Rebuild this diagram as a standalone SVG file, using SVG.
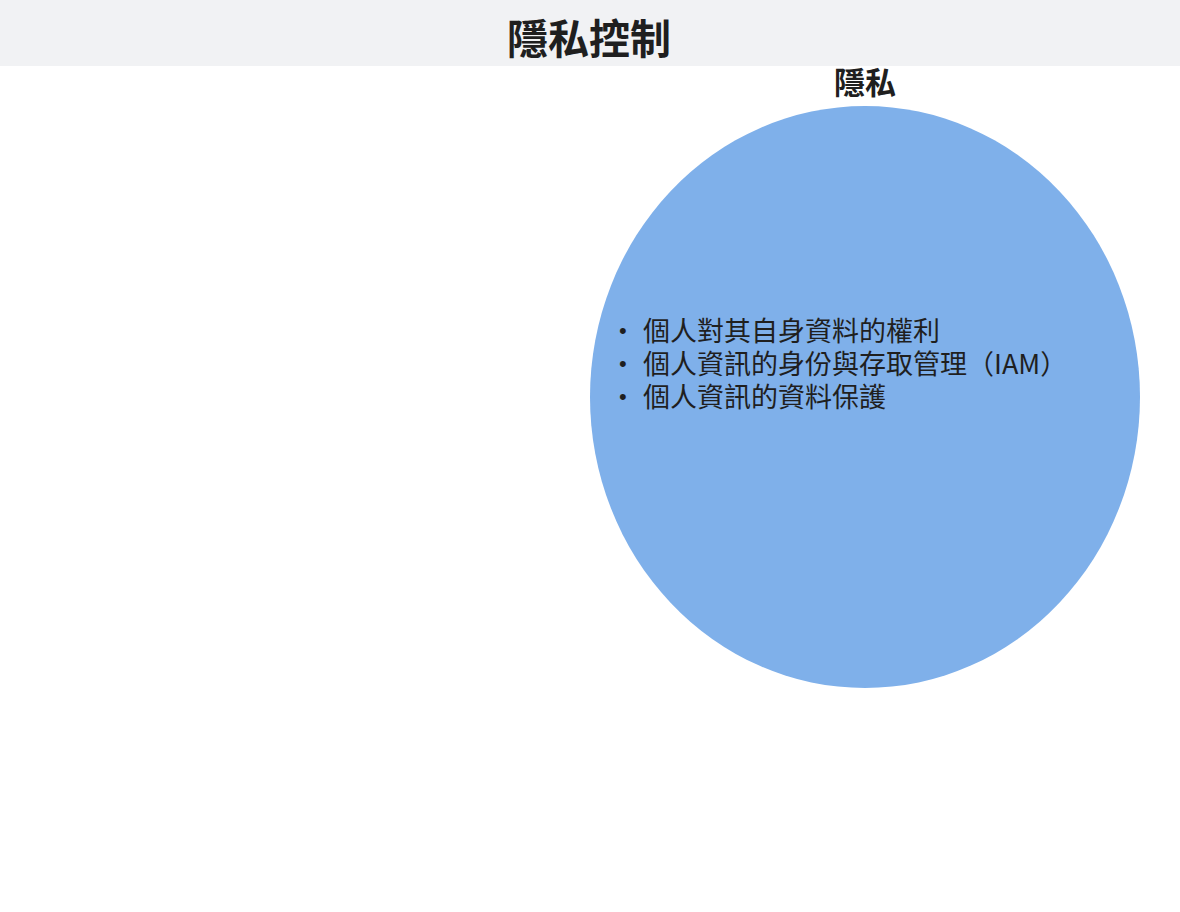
<svg xmlns="http://www.w3.org/2000/svg" width="1180" height="912" viewBox="0 0 1180 912">
<style>
.t{font-family:"Noto Sans CJK TC","Noto Sans CJK SC",sans-serif;fill:#1f1f1f}
.b{font-weight:bold;text-anchor:middle}
.li{font-size:27px}
.dot{font-family:"Liberation Sans",sans-serif;font-size:22px}
</style>
<rect x="0" y="0" width="1180" height="912" fill="#ffffff"/>
<rect x="0" y="0" width="1180" height="66" fill="#f1f2f4"/>
<text class="t b" x="589" y="54" font-size="41">隱私控制</text>
<g id="privacy">
<ellipse cx="865" cy="397" rx="275" ry="291" fill="#7fb0ea"/>
<text class="t b" x="865" y="94" font-size="31">隱私</text>
<text class="t li"><tspan class="dot" x="619" y="338">•</tspan><tspan x="643" y="341">個人對其自身資料的權利</tspan><tspan class="dot" x="619" y="371">•</tspan><tspan x="643" y="374">個人資訊的身份與存取管理（IAM）</tspan><tspan class="dot" x="619" y="404">•</tspan><tspan x="643" y="407">個人資訊的資料保護</tspan></text>
</g>
<g id="connectors"/>
</svg>
